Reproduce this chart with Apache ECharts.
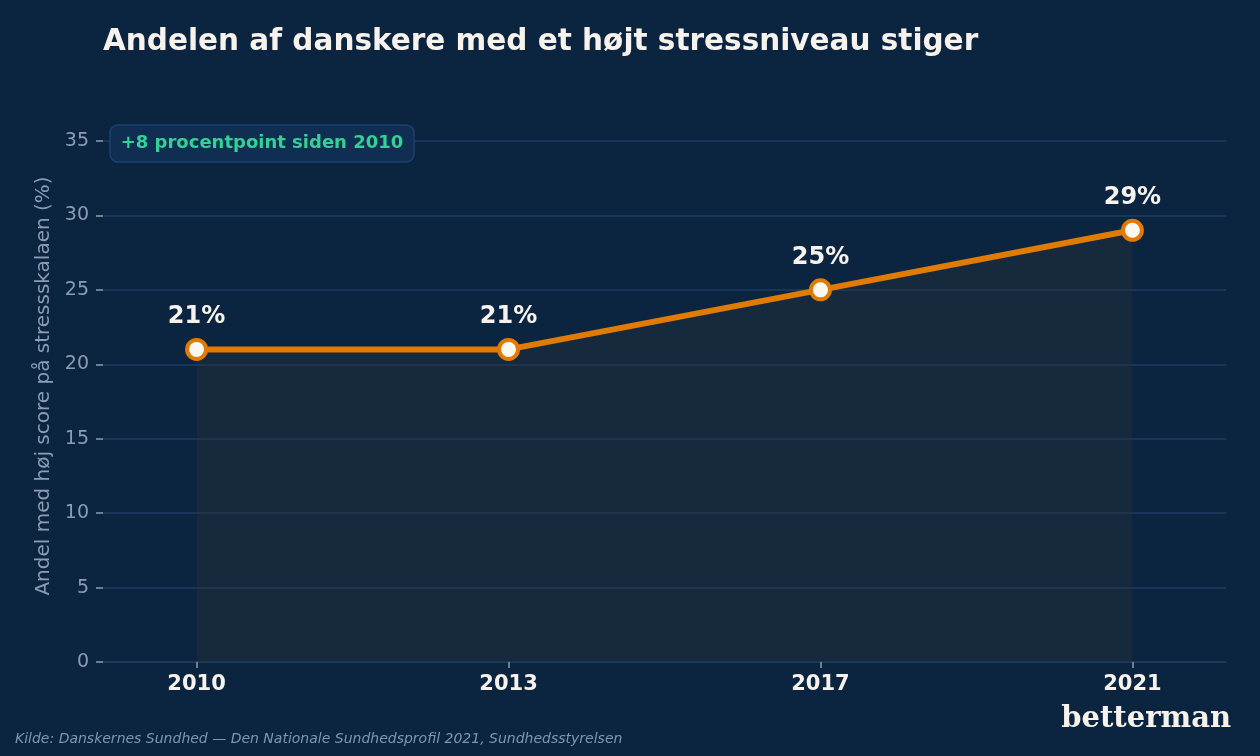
<!DOCTYPE html>
<html>
<head>
<meta charset="utf-8">
<script src="https://cdn.jsdelivr.net/npm/echarts@6/dist/echarts.min.js"></script>
<style>
  html, body { margin: 0; padding: 0; background: #0b2440; }
  #chart { width: 1260px; height: 756px; }
</style>
</head>
<body>
<div id="chart"></div>
<script>
// data
const years = ['2010', '2013', '2017', '2021'];
const stressShare = [21, 21, 25, 29];
const yTicks = [0, 5, 10, 15, 20, 25, 30, 35];

const bg = '#0b2440';
const orange = '#e07b06';
const gridColor = '#1d3d62';
const tickColor = '#8b9db5';
const font = 'DejaVu Sans';

const chart = echarts.init(document.getElementById('chart'), null, { renderer: 'canvas' });

// x positions are category indices on a value axis so the side padding matches
const points = stressShare.map((v, i) => [i, v]);

const option = {
  backgroundColor: bg,
  animation: false,
  textStyle: { fontFamily: font },
  title: {
    text: 'Andelen af danskere med et højt stressniveau stiger',
    left: 103,
    top: 27,
    padding: 0,
    textStyle: { color: '#f7f3ec', fontSize: 29.5, fontWeight: 'bold', fontFamily: font }
  },
  grid: { left: 103, right: 34, top: 141, bottom: 94 },
  xAxis: {
    type: 'value',
    min: -0.3,
    max: 3.3,
    axisLine: { show: true, onZero: false, lineStyle: { color: gridColor, width: 1.5 } },
    axisTick: { show: true, length: 6, customValues: [0, 1, 2, 3], lineStyle: { color: tickColor, width: 1.5 } },
    splitLine: { show: false },
    axisLabel: {
      customValues: [0, 1, 2, 3],
      formatter: (v) => years[Math.round(v)],
      color: '#f7f3ec',
      fontSize: 21,
      fontWeight: 'bold',
      fontFamily: font,
      margin: 12
    }
  },
  yAxis: {
    type: 'value',
    min: 0,
    max: yTicks[yTicks.length - 1],
    interval: 5,
    axisLine: { show: false, onZero: false },
    axisTick: { show: true, length: 7, lineStyle: { color: tickColor, width: 1.5 } },
    splitLine: { show: true, lineStyle: { color: gridColor, width: 1.5 } },
    axisLabel: { color: tickColor, fontSize: 19, fontFamily: font, margin: 14 }
  },
  series: [
    {
      type: 'line',
      data: points,
      lineStyle: { color: orange, width: 6 },
      symbol: 'circle',
      symbolSize: 19,
      itemStyle: { color: '#fbf8f2', borderColor: orange, borderWidth: 4 },
      areaStyle: { color: 'rgba(46,50,54,0.5)', origin: 'start' },
      label: {
        show: true,
        position: 'top',
        distance: 9,
        formatter: (p) => p.value[1] + '%',
        color: '#f7f3ec',
        fontSize: 24,
        fontWeight: 'bold',
        fontFamily: font
      },
      z: 3
    }
  ],
  graphic: [
    {
      type: 'text',
      x: 44,
      y: 386,
      rotation: Math.PI / 2,
      z: 100,
      style: {
        text: 'Andel med høj score på stressskalaen (%)',
        fill: tickColor,
        font: '20px "DejaVu Sans"',
        align: 'center',
        verticalAlign: 'middle'
      }
    },
    {
      type: 'group',
      x: 110,
      y: 125,
      z: 100,
      children: [
        {
          type: 'rect',
          z: 100,
          shape: { x: 0, y: 0, width: 304, height: 37, r: 8 },
          style: { fill: '#0f2e52', stroke: '#1d4270', lineWidth: 1.5 }
        },
        {
          type: 'text',
          z: 101,
          x: 152,
          y: 18.5,
          style: {
            text: '+8 procentpoint siden 2010',
            fill: '#34d096',
            font: 'bold 18px "DejaVu Sans"',
            align: 'center',
            verticalAlign: 'middle'
          }
        }
      ]
    },
    {
      type: 'text',
      x: 15,
      y: 739,
      style: {
        text: 'Kilde: Danskernes Sundhed — Den Nationale Sundhedsprofil 2021, Sundhedsstyrelsen',
        fill: '#8096b0',
        font: 'italic 14px "DejaVu Sans"',
        verticalAlign: 'middle'
      }
    },
    {
      type: 'text',
      x: 1231,
      y: 719,
      style: {
        text: 'betterman',
        fill: '#f7f3ec',
        font: 'bold 29px "DejaVu Serif"',
        align: 'right',
        verticalAlign: 'middle'
      }
    }
  ]
};

chart.setOption(option);
</script>
</body>
</html>
